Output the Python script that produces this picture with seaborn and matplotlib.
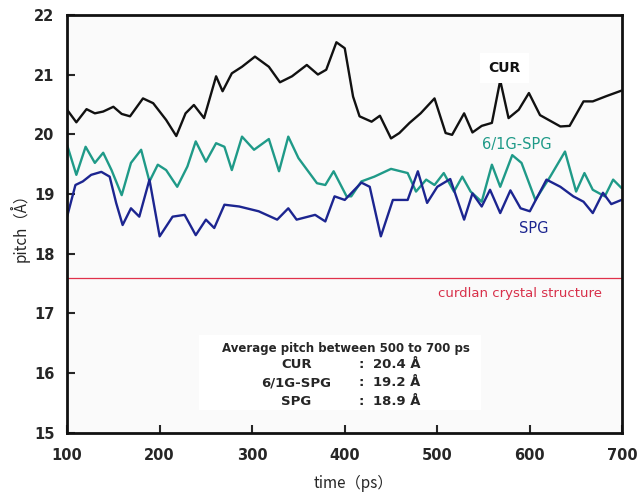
import matplotlib
matplotlib.use("Agg")
import matplotlib.pyplot as plt
from matplotlib.patches import Rectangle
import seaborn as sns
import pandas as pd

# pitch vs time
cur_t = [100, 110, 121, 130, 139, 150, 159, 168, 182, 193, 207, 218, 228, 237, 248, 261, 268, 278,
         289, 303, 318, 330, 343, 359, 371, 380, 391, 400, 409, 416, 429, 438, 450, 459, 470, 482,
         497, 509, 516, 529, 538, 548, 559, 568, 577, 588, 599, 611, 633, 643, 658, 668, 683, 699]
cur_pitch = [20.41, 20.20, 20.42, 20.35, 20.38, 20.46, 20.34, 20.30, 20.60, 20.52, 20.24, 19.97,
             20.35, 20.49, 20.27, 20.97, 20.72, 21.02, 21.13, 21.30, 21.13, 20.87, 20.97, 21.16,
             21.00, 21.08, 21.54, 21.44, 20.63, 20.30, 20.21, 20.31, 19.93, 20.02, 20.19, 20.35,
             20.60, 20.02, 19.99, 20.35, 20.03, 20.14, 20.19, 20.90, 20.27, 20.41, 20.69, 20.32,
             20.13, 20.14, 20.55, 20.55, 20.64, 20.73]

g6_t = [100, 110, 120, 130, 139, 148, 159, 169, 180, 189, 198, 207, 219, 230, 239, 250, 261, 270,
        278, 289, 302, 318, 329, 339, 350, 370, 379, 388, 402, 407, 418, 432, 450, 468, 477, 488,
        497, 507, 518, 527, 536, 548, 559, 568, 581, 591, 606, 622, 638, 650, 659, 668, 681, 690, 699]
g6_pitch = [19.82, 19.32, 19.79, 19.52, 19.69, 19.40, 18.98, 19.52, 19.74, 19.21, 19.49, 19.40,
            19.12, 19.46, 19.88, 19.54, 19.85, 19.79, 19.40, 19.96, 19.74, 19.92, 19.38, 19.96,
            19.60, 19.18, 19.15, 19.38, 18.96, 18.96, 19.21, 19.29, 19.42, 19.35, 19.04, 19.24,
            19.15, 19.35, 19.04, 19.29, 19.04, 18.87, 19.49, 19.12, 19.65, 19.52, 18.90, 19.29,
            19.71, 19.04, 19.35, 19.07, 18.96, 19.24, 19.10]

spg_t = [100, 109, 117, 126, 137, 146, 153, 160, 169, 178, 189, 200, 214, 227, 239, 250, 259, 270,
         286, 307, 327, 339, 348, 368, 379, 389, 400, 418, 427, 439, 452, 468, 479, 489, 500, 514,
         529, 538, 548, 557, 568, 579, 590, 600, 618, 633, 647, 658, 668, 679, 688, 699]
spg_pitch = [18.62, 19.15, 19.21, 19.32, 19.37, 19.29, 18.85, 18.48, 18.76, 18.62, 19.24, 18.29,
             18.62, 18.65, 18.31, 18.57, 18.43, 18.82, 18.79, 18.71, 18.57, 18.76, 18.57, 18.65,
             18.54, 18.96, 18.90, 19.19, 19.12, 18.29, 18.90, 18.90, 19.38, 18.85, 19.12, 19.25,
             18.57, 19.01, 18.79, 19.07, 18.68, 19.06, 18.76, 18.71, 19.24, 19.12, 18.96, 18.87,
             18.68, 19.02, 18.83, 18.90]

crystal_pitch = 17.6
avg_names = ["CUR", "6/1G-SPG", "SPG"]
avg_values = [20.4, 19.2, 18.9]

df = pd.concat([
    pd.DataFrame({"time": cur_t, "pitch": cur_pitch, "model": "CUR"}),
    pd.DataFrame({"time": g6_t, "pitch": g6_pitch, "model": "6/1G-SPG"}),
    pd.DataFrame({"time": spg_t, "pitch": spg_pitch, "model": "SPG"}),
])
palette = {"CUR": "#111111", "6/1G-SPG": "#1f9a88", "SPG": "#1c2590"}

sns.set_style("ticks")
plt.rcParams['font.family'] = ['DejaVu Sans', 'Noto Sans CJK JP']

fig = plt.figure(figsize=(6.39, 4.93), dpi=100)
ax = fig.add_axes([0.105, 0.122, 0.869, 0.848])
ax.set_facecolor("#fafafa")

sns.lineplot(data=df, x="time", y="pitch", hue="model", palette=palette,
             estimator=None, sort=False, linewidth=1.7, legend=False, ax=ax)
ax.axhline(crystal_pitch, color="#e0304a", linewidth=0.9)

ax.set_xlim(100, 700)
ax.set_ylim(15, 22)
ax.set_xticks(range(100, 701, 100))
ax.set_yticks(range(15, 23))
ax.tick_params(direction="in", length=6, width=1.5, top=False, right=False)
ax.tick_params(axis="x", pad=11)
ax.tick_params(axis="y", pad=9)
for lab in ax.get_xticklabels() + ax.get_yticklabels():
    lab.set_fontweight("bold")
    lab.set_fontsize(10.5)
for s in ax.spines.values():
    s.set_linewidth(2)
    s.set_color("#111111")

ax.set_xlabel("time（ps）", fontsize=11, labelpad=7,
              family=['Noto Sans CJK JP', 'DejaVu Sans'])
ax.set_ylabel("pitch（Å）", fontsize=11, labelpad=3,
              family=['Noto Sans CJK JP', 'DejaVu Sans'])
ax.xaxis.set_label_coords(0.515, -0.1)

ax.text(573, 21.11, "CUR", fontsize=10, fontweight="bold", color="#111111", ha="center",
        va="center", bbox=dict(facecolor="white", edgecolor="none", pad=6))
ax.text(586, 19.82, "6/1G-SPG", fontsize=10.5, color="#1f9a88", ha="center", va="center")
ax.text(604, 18.43, "SPG", fontsize=10.5, color="#1c2590", ha="center", va="center")
ax.text(589, 17.33, "curdlan crystal structure", fontsize=9.5, color="#d8304a",
        ha="center", va="center")

# white panel behind the averages
ax.add_patch(Rectangle((243, 15.38), 304, 1.26, facecolor="white", edgecolor="none", zorder=1.5))
ax.text(401, 16.42, "Average pitch between 500 to 700 ps", fontsize=8.5, fontweight="bold",
        ha="center", va="center", zorder=3)
for i, (n, v) in enumerate(zip(avg_names, avg_values)):
    yy = 16.14 - i * 0.305
    ax.text(348, yy, n, fontsize=9.5, fontweight="bold", ha="center", va="center", zorder=3)
    ax.text(418, yy, ":", fontsize=9.5, fontweight="bold", ha="center", va="center", zorder=3)
    ax.text(430, yy, f"{v} Å", fontsize=9.5, fontweight="bold", ha="left", va="center", zorder=3)

fig.savefig("out.png", dpi=100, facecolor="white")
